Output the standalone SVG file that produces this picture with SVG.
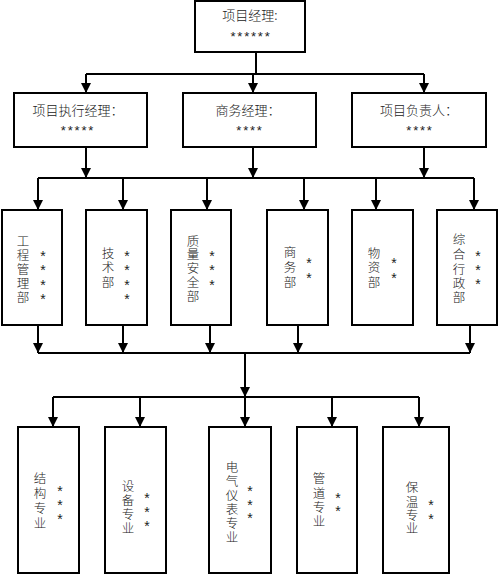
<svg xmlns="http://www.w3.org/2000/svg" width="499" height="575" viewBox="0 0 499 575">
<style>
.box{fill:#fff;stroke:#000;stroke-width:2}
.t{font-family:"Noto Sans CJK SC","Liberation Sans",sans-serif;font-size:13px;fill:#222;font-weight:300}
.v{font-family:"Noto Sans CJK SC",sans-serif;font-size:12.5px;fill:#222;font-weight:300;text-anchor:middle}
.s{font-family:"Liberation Sans",sans-serif;font-size:13px;fill:#222;letter-spacing:1.8px}
.st{font-family:"Liberation Sans",sans-serif;font-size:14px;fill:#222;text-anchor:middle}
.c{text-anchor:middle}
.ln{stroke:#000;stroke-width:2;fill:none}
</style>
<defs>
<marker id="ah" markerUnits="userSpaceOnUse" markerWidth="10" markerHeight="10" refX="10" refY="5" orient="auto" viewBox="0 0 10 10">
<path d="M0,0 L10,5 L0,10 Z" fill="#000"/>
</marker>
</defs>
<rect width="499" height="575" fill="#fff"/>
<g id="connectors">
<path class="ln" d="M256,52 V74 M86,74 H424"/>
<line class="ln" x1="86" y1="74" x2="86" y2="93" marker-end="url(#ah)"/>
<line class="ln" x1="253" y1="74" x2="253" y2="93" marker-end="url(#ah)"/>
<line class="ln" x1="424" y1="74" x2="424" y2="93" marker-end="url(#ah)"/>
<line class="ln" x1="86" y1="147" x2="86" y2="178" marker-end="url(#ah)"/>
<line class="ln" x1="253" y1="147" x2="253" y2="178" marker-end="url(#ah)"/>
<line class="ln" x1="424" y1="147" x2="424" y2="178" marker-end="url(#ah)"/>
<path class="ln" d="M38,178 H474"/>
<line class="ln" x1="38" y1="178" x2="38" y2="210" marker-end="url(#ah)"/>
<line class="ln" x1="123" y1="178" x2="123" y2="210" marker-end="url(#ah)"/>
<line class="ln" x1="207" y1="178" x2="207" y2="210" marker-end="url(#ah)"/>
<line class="ln" x1="304" y1="178" x2="304" y2="210" marker-end="url(#ah)"/>
<line class="ln" x1="376" y1="178" x2="376" y2="210" marker-end="url(#ah)"/>
<line class="ln" x1="474" y1="178" x2="474" y2="210" marker-end="url(#ah)"/>
<line class="ln" x1="38" y1="325" x2="38" y2="353" marker-end="url(#ah)"/>
<line class="ln" x1="123" y1="325" x2="123" y2="353" marker-end="url(#ah)"/>
<line class="ln" x1="210" y1="325" x2="210" y2="353" marker-end="url(#ah)"/>
<line class="ln" x1="298" y1="325" x2="298" y2="353" marker-end="url(#ah)"/>
<line class="ln" x1="470" y1="325" x2="470" y2="353" marker-end="url(#ah)"/>
<path class="ln" d="M38,353 H470"/>
<line class="ln" x1="245" y1="353" x2="245" y2="397" marker-end="url(#ah)"/>
<path class="ln" d="M53,397 H419"/>
<line class="ln" x1="53" y1="397" x2="53" y2="427" marker-end="url(#ah)"/>
<line class="ln" x1="140" y1="397" x2="140" y2="427" marker-end="url(#ah)"/>
<line class="ln" x1="245" y1="397" x2="245" y2="427" marker-end="url(#ah)"/>
<line class="ln" x1="332" y1="397" x2="332" y2="427" marker-end="url(#ah)"/>
<line class="ln" x1="419" y1="397" x2="419" y2="427" marker-end="url(#ah)"/>
</g>
<g id="n-pm">
<rect class="box" x="195" y="1" width="110" height="51"/>
<text class="t c" x="250" y="20">项目经理:</text>
<text class="s c" x="251" y="41">******</text>
</g>
<g id="n-exec">
<rect class="box" x="14" y="93" width="133" height="54"/>
<text class="t c" x="78" y="115">项目执行经理：</text>
<text class="s c" x="78" y="135">*****</text>
</g>
<g id="n-biz">
<rect class="box" x="183" y="93" width="133" height="54"/>
<text class="t c" x="248" y="115">商务经理：</text>
<text class="s c" x="250" y="135">****</text>
</g>
<g id="n-lead">
<rect class="box" x="352" y="93" width="134" height="54"/>
<text class="t c" x="419" y="115">项目负责人：</text>
<text class="s c" x="420" y="135">****</text>
</g>
<g id="n-gc">
<rect class="box" x="2" y="210" width="60" height="115"/>
<text class="v"><tspan x="23" y="246">工</tspan><tspan x="23" y="260">程</tspan><tspan x="23" y="274">管</tspan><tspan x="23" y="288">理</tspan><tspan x="23" y="302">部</tspan></text>
<text class="st"><tspan x="43" y="261">*</tspan><tspan x="43" y="275">*</tspan><tspan x="43" y="290">*</tspan><tspan x="43" y="304">*</tspan></text>
</g>
<g id="n-js">
<rect class="box" x="86" y="210" width="61" height="115"/>
<text class="v"><tspan x="108" y="258">技</tspan><tspan x="108" y="272">术</tspan><tspan x="108" y="287">部</tspan></text>
<text class="st"><tspan x="127" y="261">*</tspan><tspan x="127" y="275">*</tspan><tspan x="127" y="290">*</tspan><tspan x="127" y="304">*</tspan></text>
</g>
<g id="n-zl">
<rect class="box" x="171" y="210" width="60" height="115"/>
<text class="v"><tspan x="193" y="246">质</tspan><tspan x="193" y="259">量</tspan><tspan x="193" y="273">安</tspan><tspan x="193" y="287">全</tspan><tspan x="193" y="301">部</tspan></text>
<text class="st"><tspan x="212" y="261">*</tspan><tspan x="212" y="275">*</tspan><tspan x="212" y="290">*</tspan></text>
</g>
<g id="n-sw">
<rect class="box" x="267" y="210" width="61" height="115"/>
<text class="v"><tspan x="290" y="257">商</tspan><tspan x="290" y="272">务</tspan><tspan x="290" y="287">部</tspan></text>
<text class="st"><tspan x="309" y="268">*</tspan><tspan x="309" y="283">*</tspan></text>
</g>
<g id="n-wz">
<rect class="box" x="352" y="210" width="61" height="115"/>
<text class="v"><tspan x="374" y="258">物</tspan><tspan x="374" y="272">资</tspan><tspan x="374" y="287">部</tspan></text>
<text class="st"><tspan x="394" y="268">*</tspan><tspan x="394" y="283">*</tspan></text>
</g>
<g id="n-zh">
<rect class="box" x="437" y="210" width="60" height="115"/>
<text class="v"><tspan x="459" y="244">综</tspan><tspan x="459" y="259">合</tspan><tspan x="459" y="274">行</tspan><tspan x="459" y="288">政</tspan><tspan x="459" y="302">部</tspan></text>
<text class="st"><tspan x="478" y="261">*</tspan><tspan x="478" y="275">*</tspan><tspan x="478" y="289">*</tspan></text>
</g>
<g id="n-jg">
<rect class="box" x="18" y="427" width="61" height="146"/>
<text class="v"><tspan x="40" y="483">结</tspan><tspan x="40" y="498">构</tspan><tspan x="40" y="513">专</tspan><tspan x="40" y="528">业</tspan></text>
<text class="st"><tspan x="60" y="496">*</tspan><tspan x="60" y="510">*</tspan><tspan x="60" y="524">*</tspan></text>
</g>
<g id="n-sb">
<rect class="box" x="105" y="427" width="61" height="146"/>
<text class="v"><tspan x="128" y="491">设</tspan><tspan x="128" y="505">备</tspan><tspan x="128" y="519">专</tspan><tspan x="128" y="533">业</tspan></text>
<text class="st"><tspan x="147" y="503">*</tspan><tspan x="147" y="517">*</tspan><tspan x="147" y="531">*</tspan></text>
</g>
<g id="n-dq">
<rect class="box" x="209" y="427" width="62" height="146"/>
<text class="v"><tspan x="232" y="472">电</tspan><tspan x="232" y="486">气</tspan><tspan x="232" y="500">仪</tspan><tspan x="232" y="514">表</tspan><tspan x="232" y="528">专</tspan><tspan x="232" y="542">业</tspan></text>
<text class="st"><tspan x="250" y="496">*</tspan><tspan x="250" y="510">*</tspan><tspan x="250" y="523">*</tspan></text>
</g>
<g id="n-gd">
<rect class="box" x="297" y="427" width="60" height="146"/>
<text class="v"><tspan x="319" y="483">管</tspan><tspan x="319" y="498">道</tspan><tspan x="319" y="512">专</tspan><tspan x="319" y="526">业</tspan></text>
<text class="st"><tspan x="338" y="503">*</tspan><tspan x="338" y="516">*</tspan></text>
</g>
<g id="n-bw">
<rect class="box" x="383" y="427" width="66" height="146"/>
<text class="v"><tspan x="412" y="492">保</tspan><tspan x="412" y="507">温</tspan><tspan x="412" y="520">专</tspan><tspan x="412" y="533">业</tspan></text>
<text class="st"><tspan x="431" y="510">*</tspan><tspan x="431" y="524">*</tspan></text>
</g>
</svg>
